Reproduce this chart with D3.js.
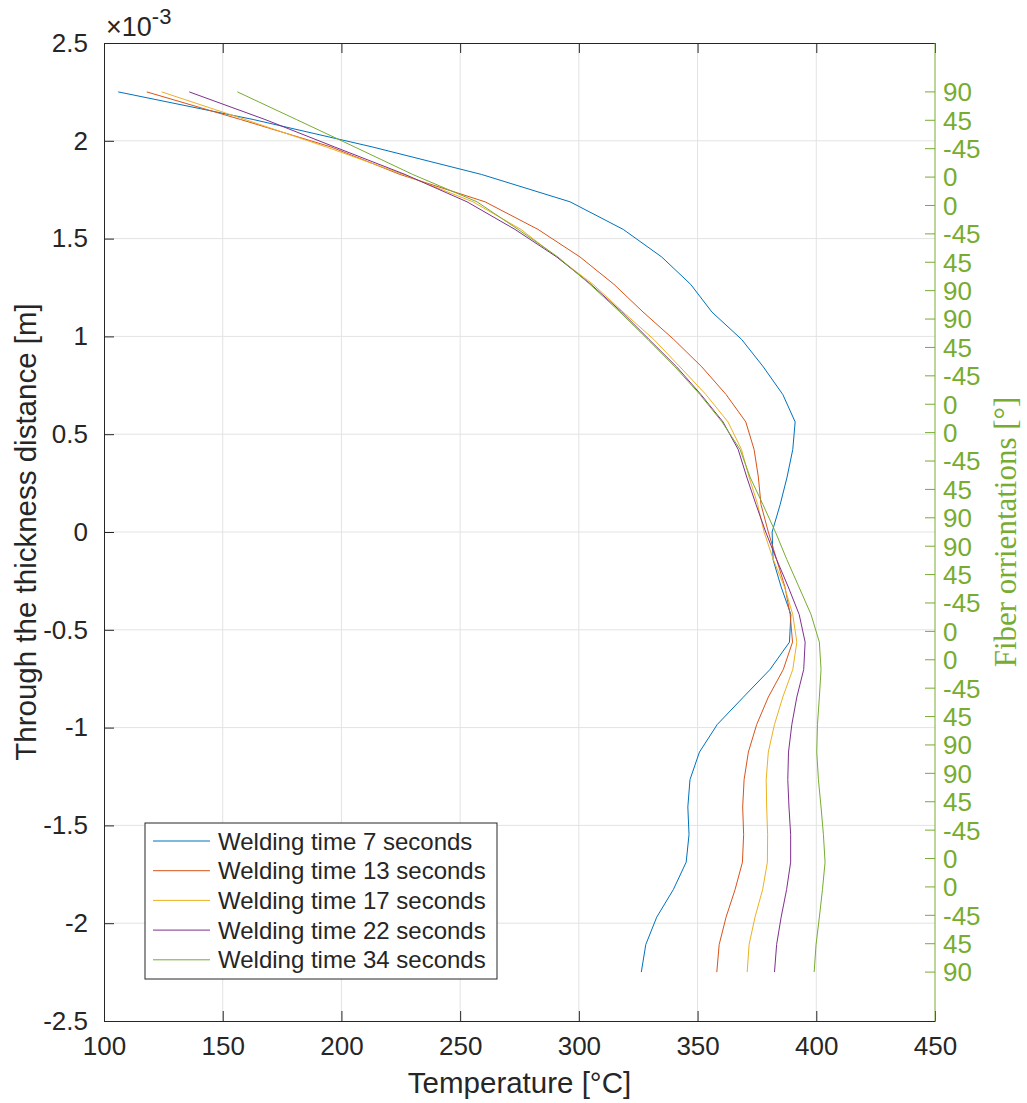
<!DOCTYPE html>
<html>
<head>
<meta charset="utf-8">
<script src="https://cdn.jsdelivr.net/npm/d3@7/dist/d3.min.js"></script>
<style>
  body { margin: 0; background: #fff; }
  text { font-family: "Liberation Sans", Arial, Helvetica, sans-serif; }
</style>
</head>
<body>
<svg width="1027" height="1103"></svg>
<script>
// through-thickness positions [m], top to bottom
const depth = [2.25e-3, 2.109e-3, 1.969e-3, 1.828e-3, 1.688e-3, 1.547e-3, 1.406e-3, 1.266e-3,
  1.125e-3, 0.984e-3, 0.844e-3, 0.703e-3, 0.563e-3, 0.422e-3, 0.281e-3, 0.141e-3, 0,
  -0.141e-3, -0.281e-3, -0.422e-3, -0.563e-3, -0.703e-3, -0.844e-3, -0.984e-3, -1.125e-3,
  -1.266e-3, -1.406e-3, -1.547e-3, -1.688e-3, -1.828e-3, -1.969e-3, -2.109e-3, -2.25e-3];

// temperature [°C] at each depth
const temp7 = [106, 162.8, 212.9, 259, 296.3, 318.7, 334.9, 347.1, 356, 368.6, 377.7, 385.9,
  391.1, 390.1, 387.7, 384.8, 381.4, 381.8, 385.2, 389.3, 388.7, 380.5, 369.3, 358.3, 350.8,
  346.8, 345.9, 346.4, 345.2, 339.8, 332.8, 328.2, 326.3];
const temp13 = [118, 157.5, 195.5, 224.7, 260.5, 282.8, 300.5, 314.8, 327, 340, 351.8, 362,
  370.3, 373.8, 375.6, 376.7, 379.8, 383.3, 386.8, 389, 390, 386.1, 379.8, 374.9, 371.4,
  369.6, 369, 369.4, 368.9, 365.8, 362, 359.1, 358.1];
const temp17 = [124.3, 159.4, 193.5, 226, 255.4, 275.6, 290.7, 306, 318.6, 331.6, 342.6, 353.5,
  362.8, 368.5, 371.7, 375.3, 378, 381.9, 386.6, 390.1, 391.8, 390.1, 385.9, 382.4, 379.8,
  378.9, 379.1, 379.5, 379.4, 377.4, 374.2, 371.7, 370.9];
const temp22 = [135.9, 167.8, 197, 226.8, 252.9, 273.1, 290.7, 305.1, 318, 329.6, 341.2, 351.4,
  360.7, 367.1, 370.7, 374.6, 378.7, 383.3, 388.2, 392.8, 395.3, 394.7, 391.8, 389.7, 388.3,
  388, 388.5, 389.2, 389.2, 387.5, 385.2, 383.3, 382.4];
const temp34 = [156.2, 181, 205.5, 230, 257.1, 274.4, 291.2, 304.7, 317.3, 329.1, 340.5, 351,
  360.3, 367.9, 372.1, 377.5, 382.8, 387.6, 392.7, 397.8, 401.3, 402, 401.3, 400.5, 400.2,
  400.9, 402, 403, 403.7, 402.6, 401.3, 399.9, 399.1];

const seriesNames = ["Welding time 7 seconds", "Welding time 13 seconds", "Welding time 17 seconds",
  "Welding time 22 seconds", "Welding time 34 seconds"];

// fiber orientation of each ply, top to bottom
const plyAngles = [90, 45, -45, 0, 0, -45, 45, 90, 90, 45, -45, 0, 0, -45, 45, 90,
  90, 45, -45, 0, 0, -45, 45, 90, 90, 45, -45, 0, 0, -45, 45, 90];

const xTicks = [100, 150, 200, 250, 300, 350, 400, 450];
const yTicks = [2.5, 2, 1.5, 1, 0.5, 0, -0.5, -1, -1.5, -2, -2.5];

const colors = ["#0072BD", "#D95319", "#EDB120", "#7E2F8E", "#77AC30"];
const axisCol = "#262626", gridCol = "#e3e3e3", rightCol = "#77AC30";

const svg = d3.select("svg"),
      margin = {top: 43, right: 92, bottom: 82, left: 104},
      width = +svg.attr("width") - margin.left - margin.right,
      height = +svg.attr("height") - margin.top - margin.bottom,
      g = svg.append("g").attr("transform", "translate(" + margin.left + "," + margin.top + ")");

const x = d3.scaleLinear().domain([100, 450]).range([0, width]);
const y = d3.scaleLinear().domain([-2.5e-3, 2.5e-3]).range([height, 0]);

// grid
g.append("g").selectAll("line").data(xTicks.slice(1, -1)).join("line")
  .attr("x1", d => x(d)).attr("x2", d => x(d)).attr("y1", 0).attr("y2", height)
  .attr("stroke", gridCol).attr("stroke-width", 1);
g.append("g").selectAll("line").data(yTicks.slice(1, -1)).join("line")
  .attr("y1", d => y(d * 1e-3)).attr("y2", d => y(d * 1e-3)).attr("x1", 0).attr("x2", width)
  .attr("stroke", gridCol).attr("stroke-width", 1);

// curves
const allSeries = [temp7, temp13, temp17, temp22, temp34];
const line = d3.line()
  .x(d => x(d[0]))
  .y(d => y(d[1]));
allSeries.forEach((s, k) => {
  g.append("path")
    .datum(s.map((t, i) => [t, depth[i]]))
    .attr("fill", "none")
    .attr("stroke", colors[k])
    .attr("stroke-width", 1)
    .attr("d", line);
});

// axes
const tickLen = 10;
const xAxis = g.append("g").attr("transform", "translate(0," + height + ")")
  .call(d3.axisBottom(x).tickValues(xTicks).tickSizeInner(-tickLen).tickSizeOuter(0).tickPadding(16));
const xTop = g.append("g")
  .call(d3.axisTop(x).tickValues(xTicks).tickSizeInner(-tickLen).tickSizeOuter(0).tickFormat(""));
const yAxis = g.append("g")
  .call(d3.axisLeft(y).tickValues(yTicks.map(v => v * 1e-3)).tickSizeInner(-tickLen).tickSizeOuter(0)
    .tickPadding(16));

[xAxis, xTop, yAxis].forEach(a => {
  a.select(".domain").attr("stroke", axisCol).attr("stroke-width", 1);
  a.selectAll(".tick line").attr("stroke", axisCol);
  a.selectAll(".tick text").attr("fill", axisCol).style("font-size", "26px")
    .style("font-family", "'Liberation Sans', Arial, sans-serif");
});
yAxis.selectAll(".tick text").text(d => {
  const v = +(d * 1e3).toFixed(1);
  return v < 0 ? "-" + Math.abs(v) : String(v);
});
xAxis.selectAll(".tick text").attr("dy", "0.71em");

// right axis: ply orientations
const plyPos = d3.range(plyAngles.length).map(i => 2.25e-3 - i * 4.5e-3 / (plyAngles.length - 1));
const yRight = g.append("g").attr("transform", "translate(" + width + ",0)");
yRight.append("line").attr("x1", 0).attr("x2", 0).attr("y1", 0).attr("y2", height)
  .attr("stroke", rightCol).attr("stroke-width", 1);
const rt = yRight.selectAll("g.rt").data(plyAngles).join("g").attr("class", "rt")
  .attr("transform", (d, i) => "translate(0," + y(plyPos[i]) + ")");
rt.append("line").attr("x1", -tickLen).attr("x2", 0).attr("stroke", rightCol);
rt.append("text").attr("x", 8).attr("dy", "0.36em").attr("fill", rightCol)
  .style("font-size", "26px").text(d => d);

// exponent label
const expo = svg.append("text").attr("x", margin.left + 2).attr("y", 36).attr("fill", axisCol)
  .style("font-size", "27px");
expo.append("tspan").text("\u00d710");
expo.append("tspan").attr("dy", -12).style("font-size", "22px").text("-3");

// axis titles
svg.append("text")
  .attr("x", margin.left + width / 2).attr("y", 1093)
  .attr("text-anchor", "middle").attr("fill", axisCol).style("font-size", "29.5px")
  .text("Temperature [\u00b0C]");
svg.append("text")
  .attr("transform", "translate(36," + (margin.top + height / 2) + ") rotate(-90)")
  .attr("text-anchor", "middle").attr("fill", axisCol).style("font-size", "29.5px")
  .text("Through the thickness distance [m]");
svg.append("text")
  .attr("transform", "translate(1016," + (margin.top + height / 2) + ") rotate(-90)")
  .attr("text-anchor", "middle").attr("fill", rightCol)
  .style("font-size", "31px").style("font-family", "'Liberation Serif', 'DejaVu Serif', serif")
  .text("Fiber orrientations [\u00b0]");

// legend
const leg = svg.append("g").attr("transform", "translate(145,823)");
leg.append("rect").attr("width", 352).attr("height", 156)
  .attr("fill", "#fff").attr("stroke", axisCol).attr("stroke-width", 1);
const items = leg.selectAll("g.item").data(seriesNames).join("g").attr("class", "item")
  .attr("transform", (d, i) => "translate(0," + (18 + i * 29.7) + ")");
items.append("line").attr("x1", 8).attr("x2", 65)
  .attr("stroke", (d, i) => colors[i]).attr("stroke-width", 1);
items.append("text").attr("x", 73).attr("dy", "0.36em").attr("fill", axisCol)
  .style("font-size", "24px").text(d => d);
</script>
</body>
</html>
